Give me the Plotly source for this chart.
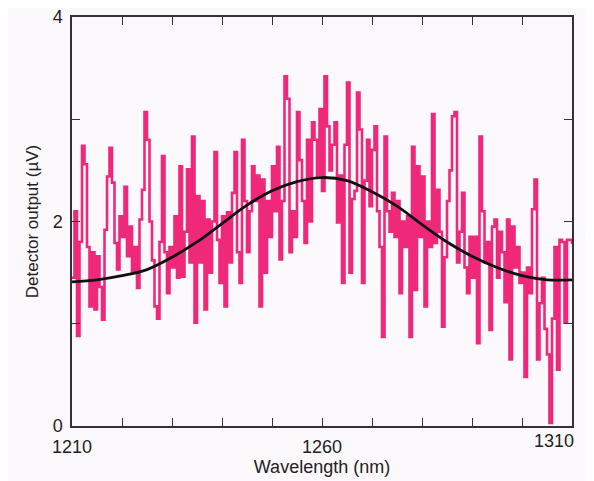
import plotly.graph_objects as go

# Measured detector output (µV), 0.5 nm steps from 1210 to 1310 nm
wavelength_start = 1210.0
wavelength_step = 0.5
signal = [
    1.45, 2.10, 0.88, 1.80, 2.74, 2.56, 1.75, 1.17, 1.70, 1.14,
    1.66, 1.36, 1.04, 1.92, 2.44, 2.72, 2.38, 1.79, 1.53, 2.05,
    1.85, 2.34, 1.66, 1.95, 1.50, 1.75, 1.35, 2.02, 2.31, 3.07,
    2.80, 2.00, 1.62, 1.17,
    1.05, 1.80, 2.64, 1.70, 1.30, 1.75, 1.55, 2.05, 1.45, 2.54,
    1.46, 1.90, 2.51, 1.60, 2.83, 1.01, 2.25, 1.60, 2.20, 1.14,
    2.02, 1.50, 2.00, 2.68, 1.82, 1.40, 2.05, 1.17, 2.09, 1.60,
    2.28, 2.68, 1.70,
    1.40, 2.80, 2.20, 1.70, 2.10, 2.54, 2.20, 2.45, 1.17, 2.41,
    1.50, 2.20, 1.85, 2.54, 2.10, 2.73, 1.63, 2.20, 3.42, 3.20,
    1.70, 2.10, 1.85, 3.07, 2.60, 2.20, 1.79, 2.80, 2.00, 2.97,
    2.80, 2.45, 3.10, 2.30,
    3.42, 2.93, 2.50, 2.75, 2.97, 1.99, 2.45, 1.40, 2.75, 3.36,
    1.50, 2.22, 2.30, 3.26, 2.90, 1.40, 2.40, 2.80, 2.15, 2.70,
    2.93, 2.10, 1.75, 0.87, 2.83, 2.10, 1.90, 2.28, 1.85, 2.20,
    1.30, 2.00, 1.75,
    2.05, 0.87, 2.73, 1.33, 2.54, 1.85, 2.44, 1.17, 2.00, 1.75,
    3.05, 1.79, 2.31, 1.90, 0.97, 1.65, 2.20, 2.50, 3.03, 3.07,
    1.60, 1.90, 2.28, 1.55, 1.30, 1.85, 1.45, 1.85, 0.81, 2.83,
    2.10, 1.60, 1.80,
    0.94, 1.95, 2.02, 1.45, 1.90, 1.70, 1.21, 2.02, 0.65, 1.95,
    1.55, 1.75, 1.40, 1.50, 0.48, 1.55, 1.30, 2.12, 2.41, 0.65,
    1.20, 1.45, 0.95, 0.70, 0.03, 1.05, 1.75, 0.55, 1.82, 1.80,
    1.01, 1.82, 1.82, 1.78,
]
wavelengths = [wavelength_start + i * wavelength_step for i in range(len(signal))]

# Fitted curve read at 5 nm intervals
fit_wavelengths = [1210, 1215, 1220, 1225, 1230, 1235, 1240, 1245, 1250, 1255, 1260,
                   1265, 1270, 1275, 1280, 1285, 1290, 1295, 1300, 1305, 1310]
fit_values = [1.41, 1.43, 1.47, 1.53, 1.65, 1.80, 1.98, 2.16, 2.30, 2.39, 2.43,
              2.40, 2.29, 2.15, 1.97, 1.80, 1.66, 1.55, 1.47, 1.43, 1.43]

x_tick_vals = [1210, 1220, 1230, 1240, 1250, 1260, 1270, 1280, 1290, 1300, 1310]
x_tick_text = ["1210", "", "", "", "", "1260", "", "", "", "", ""]
x_end_label = "1310"
y_tick_vals = [0, 1, 2, 3, 4]
y_tick_text = ["0", "", "2", "", "4"]

fig = go.Figure()
fig.add_trace(go.Scatter(
    x=wavelengths, y=signal, mode="lines", line_shape="hv",
    line=dict(color="#f0287a", width=2.6), showlegend=False,
))
fig.add_trace(go.Scatter(
    x=fit_wavelengths, y=fit_values, mode="lines", line_shape="spline",
    line=dict(color="#111111", width=2.8), showlegend=False,
))

bg = "#fcf9fc"
font_family = "Liberation Sans, Arial, Helvetica, sans-serif"
fig.update_layout(
    width=594, height=481,
    margin=dict(l=64, r=30, t=9, b=63),
    paper_bgcolor=bg, plot_bgcolor=bg,
    font=dict(family=font_family, color="#222222", size=18),
    annotations=[dict(
        x=x_tick_vals[-1], y=0, xref="x", yref="paper", text=x_end_label,
        showarrow=False, xanchor="right", yanchor="top", xshift=4, yshift=-3,
        font=dict(size=18, color="#222222"),
    )],
)
axis_common = dict(
    ticks="inside", ticklen=8, tickwidth=1, tickcolor="#333333",
    showline=True, linecolor="#333333", linewidth=1.5, mirror="ticks",
    showgrid=False, zeroline=False, automargin=False,
    tickfont=dict(size=18), ticklabelstandoff=4, ticklabeloverflow="allow",
)
fig.update_xaxes(
    range=[1210, 1310], tickvals=x_tick_vals, ticktext=x_tick_text,
    title=dict(text="Wavelength (nm)", font=dict(size=18), standoff=0),
    **axis_common,
)
fig.update_yaxes(
    range=[0, 4], tickvals=y_tick_vals, ticktext=y_tick_text,
    title=dict(text="Detector output (µV)", font=dict(size=17), standoff=10),
    **axis_common,
)

fig.write_html("out.html")
